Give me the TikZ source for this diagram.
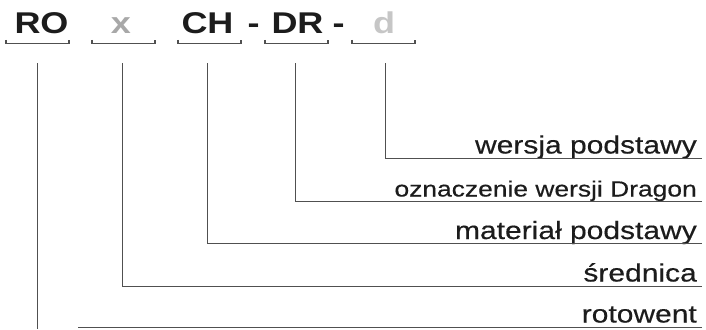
\documentclass[tikz,border=0pt]{standalone}
\usepackage{fontspec}
\setmainfont{Liberation Sans}
\newfontfamily\codefont[FakeStretch=1.2]{Liberation Sans}
\newfontfamily\lblfont[FakeStretch=1.2, FakeBold=0.4]{Liberation Sans}
\usetikzlibrary{positioning}

\definecolor{ink}{HTML}{1C1C1C}
\definecolor{rule}{HTML}{505050}
\definecolor{softx}{HTML}{A8A8A8}
\definecolor{softd}{HTML}{C6C6C6}

\tikzset{
  code/.style={anchor=base, inner sep=0pt, text=ink,
    font=\codefont\bfseries\fontsize{30}{31}\selectfont},
  bracket/.style={draw=rule, line width=1.3pt},
  lead/.style={draw=rule, line width=0.9pt},
  lbl/.style={anchor=base east, inner sep=0pt, text=ink,
    font=\lblfont\fontsize{25}{26}\selectfont},
  lblsmall/.style={lbl, font=\lblfont\fontsize{22}{23}\selectfont}
}

\begin{document}
\begin{tikzpicture}[x=1pt, y=-1pt]
  \useasboundingbox (0,0) rectangle (706,329);

  % code letters
  \node (ro) [code] at (41.5,34) {RO};
  \node (x)  [code, text=softx] at (121,34) {x};
  \node (ch) [code] at (207.5,34) {CH};
  \node (h1) [code] at (253.5,34) {-};
  \node (dr) [code] at (297.5,34) {DR};
  \node (h2) [code] at (338.5,34) {-};
  \node (d)  [code, text=softd] at (384,34) {d};

  % brackets under the letters
  \draw[bracket] (6,40) |- (69,43.5) -- (69,40);
  \draw[bracket] (92,40) |- (155,43.5) -- (155,40);
  \draw[bracket] (178,40) |- (241,43.5) -- (241,40);
  \draw[bracket] (265,40) |- (328,43.5) -- (328,40);
  \draw[bracket] (352,40) |- (415,43.5) -- (415,40);

  % labels
  \node (lw) [lbl] at (697,153.5) {wersja podstawy};
  \node (lo) [lblsmall] at (697,196.5) {oznaczenie wersji Dragon};
  \node (lm) [lbl] at (697,239) {materiał podstawy};
  \node (ls) [lbl] at (697,281.5) {średnica};
  \node (lr) [lbl] at (697,322.5) {rotowent};

  \coordinate (rot) at (37,63);
  \coordinate (xt) at (122,63);
  \coordinate (cht) at (207,63);
  \coordinate (drt) at (295,63);
  \coordinate (dt) at (385,63);
  \coordinate (lwe) at (702,158);
  \coordinate (loe) at (702,201);
  \coordinate (lme) at (702,243.5);
  \coordinate (lse) at (702,286);
  \coordinate (lre) at (702,327);
  \coordinate (lrs) at (78,327);

  % leaders
  \draw[lead] (dt) |- (lwe);
  \draw[lead] (drt) |- (loe);
  \draw[lead] (cht) |- (lme);
  \draw[lead] (xt) |- (lse);
  \draw[lead] (rot) -- ++(0,266);
  \draw[lead] (lrs) -- (lre);
\end{tikzpicture}
\end{document}
